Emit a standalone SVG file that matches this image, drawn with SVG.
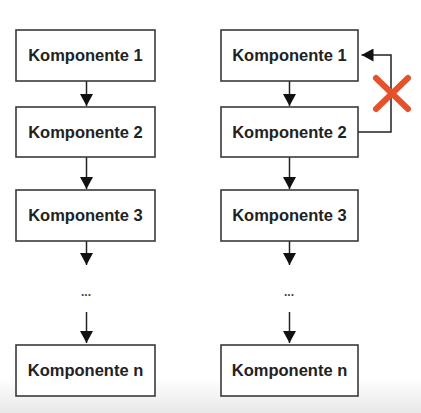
<svg xmlns="http://www.w3.org/2000/svg" width="421" height="413" viewBox="0 0 421 413">
  <defs>
    <linearGradient id="fade" x1="0" y1="0" x2="0" y2="1">
      <stop offset="0" stop-color="#ffffff"/>
      <stop offset="1" stop-color="#e8e8e8"/>
    </linearGradient>
    <marker id="ah" viewBox="0 0 12 13" refX="12" refY="6.5" markerWidth="12" markerHeight="13" markerUnits="userSpaceOnUse" orient="auto">
      <path d="M0,0 L12,6.5 L0,13 Z" fill="#111"/>
    </marker>
    <style>
      .box { fill: #ffffff; stroke: #3a3a3a; stroke-width: 1.6; }
      .lbl { font-family: "Liberation Sans", Arial, sans-serif; font-weight: bold; font-size: 16.5px; fill: #222; text-anchor: middle; }
      .dots { font-family: "Liberation Sans", Arial, sans-serif; font-weight: bold; font-size: 12px; fill: #444; text-anchor: middle; }
      .con { fill: none; stroke: #222; stroke-width: 1.5; marker-end: url(#ah); }
      .cross { stroke: #e4522b; stroke-width: 6; stroke-linecap: round; }
    </style>
  </defs>
  <rect x="0" y="0" width="421" height="413" fill="#ffffff"/>
  <rect x="0" y="378" width="421" height="35" fill="url(#fade)"/>

  <g id="connectors">
    <line class="con" x1="86.5" y1="81" x2="86.5" y2="106"/>
    <line class="con" x1="86.5" y1="157" x2="86.5" y2="189"/>
    <line class="con" x1="86.5" y1="241" x2="86.5" y2="265"/>
    <line class="con" x1="86.5" y1="312" x2="86.5" y2="343"/>
    <line class="con" x1="289.5" y1="81" x2="289.5" y2="106"/>
    <line class="con" x1="289.5" y1="157" x2="289.5" y2="189"/>
    <line class="con" x1="289.5" y1="241" x2="289.5" y2="265"/>
    <line class="con" x1="289.5" y1="312" x2="289.5" y2="343"/>
    <path class="con" d="M358,132 H391 V55 H361.5"/>
  </g>

  <g id="cross">
    <line class="cross" x1="376" y1="78" x2="408" y2="109"/>
    <line class="cross" x1="408" y1="78" x2="376" y2="109"/>
  </g>

  <g id="l1"><rect class="box" x="16" y="30" width="139" height="51"/><text class="lbl" x="85.5" y="61">Komponente 1</text></g>
  <g id="l2"><rect class="box" x="16" y="107" width="139" height="50"/><text class="lbl" x="85.5" y="138">Komponente 2</text></g>
  <g id="l3"><rect class="box" x="16" y="190" width="139" height="51"/><text class="lbl" x="85.5" y="221">Komponente 3</text></g>
  <g id="ldots"><text class="dots" x="86" y="296">...</text></g>
  <g id="ln"><rect class="box" x="16" y="345" width="139" height="51"/><text class="lbl" x="85.5" y="376">Komponente n</text></g>

  <g id="r1"><rect class="box" x="221" y="30" width="137" height="51"/><text class="lbl" x="289.5" y="61">Komponente 1</text></g>
  <g id="r2"><rect class="box" x="221" y="107" width="137" height="50"/><text class="lbl" x="289.5" y="138">Komponente 2</text></g>
  <g id="r3"><rect class="box" x="221" y="190" width="137" height="51"/><text class="lbl" x="289.5" y="221">Komponente 3</text></g>
  <g id="rdots"><text class="dots" x="289" y="296">...</text></g>
  <g id="rn"><rect class="box" x="221" y="345" width="137" height="51"/><text class="lbl" x="289.5" y="376">Komponente n</text></g>
</svg>
